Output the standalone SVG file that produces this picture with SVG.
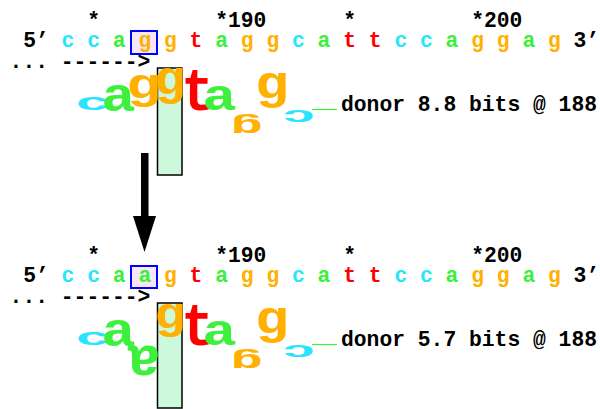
<svg xmlns="http://www.w3.org/2000/svg" width="600" height="409" viewBox="0 0 600 409">
<style>
text{font-family:"Liberation Mono","DejaVu Sans Mono",monospace;font-weight:bold}
.t{font-size:21.33px;fill:#000}
.L{font-size:100px;text-anchor:middle}
.cA{fill:#3cf03c}.cC{fill:#28e4ff}.cG{fill:#ffb000}.cT{fill:#ff0000}
.mut{fill:#f6e6f8;stroke:#0000ff;stroke-width:2}
.zero{fill:#ccf8dc;stroke:#000;stroke-width:1.5}
.base{stroke:#3cf03c;stroke-width:1.2}
</style>
<rect width="600" height="409" fill="#fff"/>

<g id="top-panel">
  <rect class="zero" x="157.5" y="68" width="24.5" height="107"/>
  <rect class="mut" x="131" y="31" width="26" height="23"/>
  <text class="t" y="27"><tspan x="87.2">*</tspan><tspan x="215.2">*190</tspan><tspan x="343.2">*</tspan><tspan x="471.2">*200</tspan></text>
  <text class="t" y="47">
    <tspan x="23.2">5’</tspan>
    <tspan x="61.6" class="cC">c</tspan><tspan x="87.2" class="cC">c</tspan><tspan x="112.8" class="cA">a</tspan><tspan x="138.4" class="cG">g</tspan><tspan x="164" class="cG">g</tspan><tspan x="189.6" class="cT">t</tspan><tspan x="215.2" class="cA">a</tspan><tspan x="240.8" class="cG">g</tspan><tspan x="266.4" class="cG">g</tspan><tspan x="292" class="cC">c</tspan><tspan x="317.6" class="cA">a</tspan><tspan x="343.2" class="cT">t</tspan><tspan x="368.8" class="cT">t</tspan><tspan x="394.4" class="cC">c</tspan><tspan x="420" class="cC">c</tspan><tspan x="445.6" class="cA">a</tspan><tspan x="471.2" class="cG">g</tspan><tspan x="496.8" class="cG">g</tspan><tspan x="522.4" class="cA">a</tspan><tspan x="548" class="cG">g</tspan>
    <tspan x="573.6">3’</tspan>
  </text>
  <text class="t" x="9.6" y="68" xml:space="preserve">... ------&gt;</text>
  <text class="L cC" transform="translate(93,110.3) scale(0.591,0.241)">c</text>
  <text class="L cA" transform="translate(118.5,110.5) scale(0.574,0.482)">a</text>
  <text class="L cG" transform="translate(143.5,98.2) scale(0.587,0.421)">g</text>
  <text class="L cG" transform="translate(170,94.05) scale(0.522,0.474)">g</text>
  <text class="L cT" transform="translate(197.5,110.4) scale(0.543,0.603)">t</text>
  <text class="L cA" transform="translate(219.5,110.1) scale(0.574,0.4375)">a</text>
  <text class="L cG" transform="translate(247.5,118.5) scale(-0.543,-0.263)">g</text>
  <text class="L cG" transform="translate(272,98.3) scale(0.565,0.4605)">g</text>
  <text class="L cC" transform="translate(298.5,110.2) scale(-0.568,-0.214)">c</text>
  <line class="base" x1="312" y1="109.5" x2="337" y2="109.5"/>
  <text class="t" x="341" y="111">donor 8.8 bits @ 188</text>
</g>

<g id="bottom-panel">
  <rect class="zero" x="157.5" y="303" width="24.5" height="105"/>
  <rect class="mut" x="131" y="266" width="26" height="22"/>
  <text class="t" y="262"><tspan x="87.2">*</tspan><tspan x="215.2">*190</tspan><tspan x="343.2">*</tspan><tspan x="471.2">*200</tspan></text>
  <text class="t" y="282">
    <tspan x="23.2">5’</tspan>
    <tspan x="61.6" class="cC">c</tspan><tspan x="87.2" class="cC">c</tspan><tspan x="112.8" class="cA">a</tspan><tspan x="138.4" class="cA">a</tspan><tspan x="164" class="cG">g</tspan><tspan x="189.6" class="cT">t</tspan><tspan x="215.2" class="cA">a</tspan><tspan x="240.8" class="cG">g</tspan><tspan x="266.4" class="cG">g</tspan><tspan x="292" class="cC">c</tspan><tspan x="317.6" class="cA">a</tspan><tspan x="343.2" class="cT">t</tspan><tspan x="368.8" class="cT">t</tspan><tspan x="394.4" class="cC">c</tspan><tspan x="420" class="cC">c</tspan><tspan x="445.6" class="cA">a</tspan><tspan x="471.2" class="cG">g</tspan><tspan x="496.8" class="cG">g</tspan><tspan x="522.4" class="cA">a</tspan><tspan x="548" class="cG">g</tspan>
    <tspan x="573.6">3’</tspan>
  </text>
  <text class="t" x="9.6" y="303" xml:space="preserve">... ------&gt;</text>
  <text class="L cC" transform="translate(93,345.3) scale(0.591,0.241)">c</text>
  <text class="L cA" transform="translate(118.5,345.5) scale(0.574,0.482)">a</text>
  <text class="L cA" transform="translate(143.5,345.55) scale(-0.574,-0.554)">a</text>
  <text class="L cG" transform="translate(170,327.6) scale(0.522,0.447)">g</text>
  <text class="L cT" transform="translate(197.5,345.4) scale(0.543,0.603)">t</text>
  <text class="L cA" transform="translate(219.5,345.1) scale(0.574,0.4375)">a</text>
  <text class="L cG" transform="translate(247.5,353.5) scale(-0.543,-0.263)">g</text>
  <text class="L cG" transform="translate(272,333.3) scale(0.565,0.4605)">g</text>
  <text class="L cC" transform="translate(298.5,345.2) scale(-0.568,-0.214)">c</text>
  <line class="base" x1="312" y1="344.5" x2="337" y2="344.5"/>
  <text class="t" x="341" y="346">donor 5.7 bits @ 188</text>
</g>

<g id="connectors">
  <rect x="141" y="153" width="7.5" height="64" fill="#000"/>
  <polygon points="133,216 156,216 144.5,252" fill="#000"/>
</g>
</svg>
